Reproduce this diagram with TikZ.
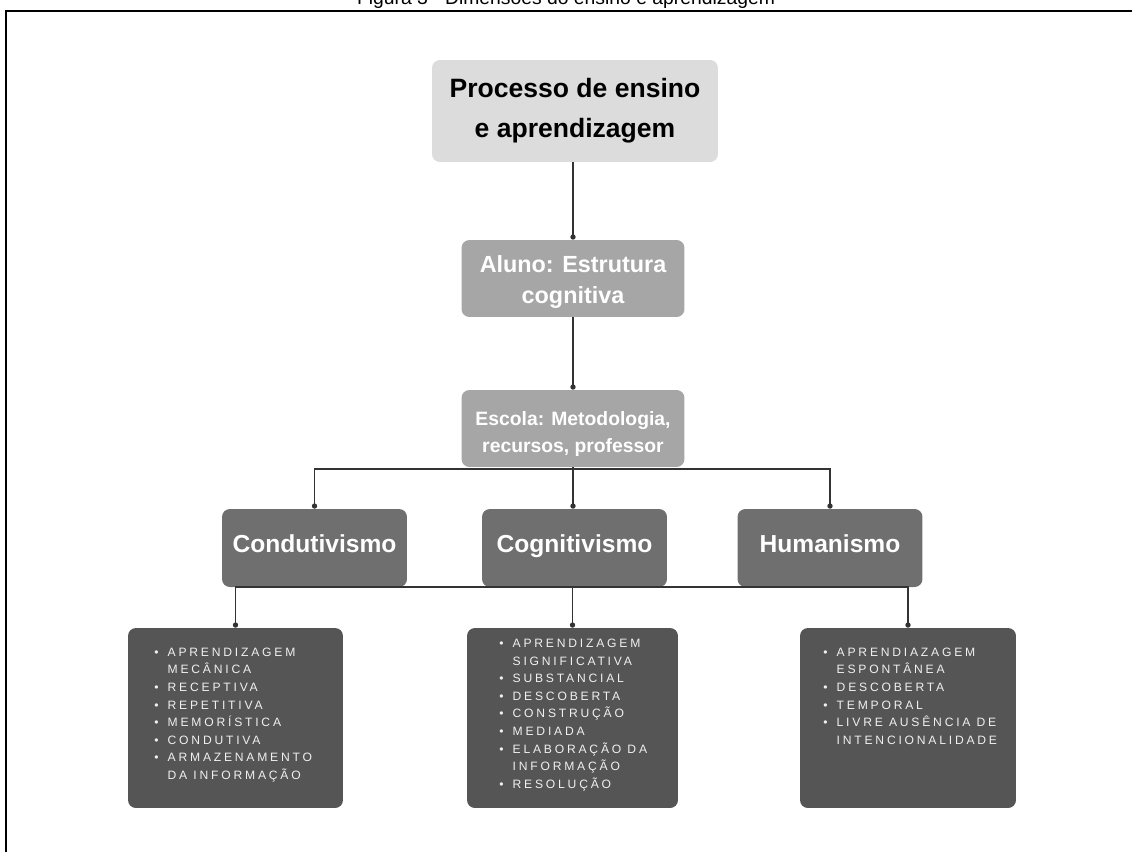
\documentclass[tikz,border=0pt]{standalone}
\usepackage{fontspec}
\setmainfont{Liberation Sans}
\newfontfamily\capsfont[LetterSpace=23]{Liberation Sans}
\usetikzlibrary{arrows.meta}
\definecolor{boxlight}{HTML}{DCDCDC}
\definecolor{boxmid}{HTML}{A6A6A6}
\definecolor{boxdark}{HTML}{6F6F6F}
\definecolor{boxlist}{HTML}{555555}
\definecolor{listtext}{HTML}{F0F0F0}
\newcommand{\itm}{\makebox[7.6pt][l]{•}}
\newcommand{\gap}{\hspace*{7.6pt}}
\begin{document}
\begin{tikzpicture}[x=0.02cm, y=-0.02cm,
    box/.style={rounded corners=4.5pt, inner sep=0pt, align=center},
    head/.style={box, fill=boxdark, text=white, minimum width=3.7cm, minimum height=1.56cm,
        text height=9.6pt, text depth=5pt, font=\bfseries\fontsize{14}{16}\selectfont},
    listbox/.style={box, fill=boxlist, minimum height=3.6cm},
    list/.style={anchor=north west, inner sep=0pt, align=left, text=listtext,
        font=\capsfont\fontsize{6.9}{10}\selectfont},
    conn/.style={draw=black!80, line width=0.6pt, -{Circle[length=3pt]}}]
    \useasboundingbox (0,0) rectangle (1132,852);
    \clip (0,0) rectangle (1132,852);
    \node[anchor=base, font=\fontsize{11}{13}\selectfont] (title) at (566,5) {Figura 3 - Dimensões do ensino e aprendizagem};
    \draw[line width=1.1pt] (6,852) -- (6,11) -- (1132,11);
    % upper chain
    \node[box, fill=boxlight, minimum width=5.72cm, minimum height=2.04cm, font=\bfseries\fontsize{15.1}{22.7}\selectfont] (proc) at (575,111) {Processo de ensino\\e aprendizagem};
    \node[box, fill=boxmid, text=white, minimum width=4.46cm, minimum height=1.54cm,
        text height=29pt, text depth=0pt, font=\bfseries\fontsize{13.3}{18.2}\selectfont] (aluno) at (573,278.5) {Aluno: Estrutura\\cognitiva};
    \node[box, fill=boxmid, text=white, minimum width=4.46cm, minimum height=1.54cm,
        text height=27.2pt, text depth=0pt, font=\bfseries\fontsize{11}{15.4}\selectfont] (escola) at (573,428.5) {Escola: Metodologia,\\recursos, professor};
    % three approaches
    \node[head] (cond) at (314.5,548) {Condutivismo};
    \node[head] (cogn) at (574.5,548) {Cognitivismo};
    \node[head] (hum) at (830,548) {Humanismo};
    % lists
    \node[listbox, minimum width=4.3cm] (condlist) at (235.5,718) {};
    \node[listbox, minimum width=4.22cm] (cognlist) at (572.5,718) {};
    \node[listbox, minimum width=4.32cm] (humlist) at (908,718) {};
    \node[list] (condtext) at (154,647.6) {\itm APRENDIZAGEM\\ \gap MECÂNICA\\ \itm RECEPTIVA\\ \itm REPETITIVA\\ \itm MEMORÍSTICA\\ \itm CONDUTIVA\\ \itm ARMAZENAMENTO\\ \gap DA INFORMAÇÃO};
    \node[list] (cogntext) at (499,638.8) {\itm APRENDIZAGEM\\ \gap SIGNIFICATIVA\\ \itm SUBSTANCIAL\\ \itm DESCOBERTA\\ \itm CONSTRUÇÃO\\ \itm MEDIADA\\ \itm ELABORAÇÃO DA\\ \gap INFORMAÇÃO\\ \itm RESOLUÇÃO};
    \node[list] (humtext) at (823,647.6) {\itm APRENDIAZAGEM\\ \gap ESPONTÂNEA\\ \itm DESCOBERTA\\ \itm TEMPORAL\\ \itm LIVRE AUSÊNCIA DE\\ \gap INTENCIONALIDADE};
    % connectors
    \coordinate (split1) at (573,469);
    \coordinate (split2) at (572.5,587);
    \draw[conn] (proc.south -| aluno.north) -- (aluno.north);
    \draw[conn] (aluno) -- (escola);
    \draw[conn] (escola.south) -- (split1) -| (cond.north);
    \draw[conn] (split1) -| (hum.north);
    \draw[conn] (split1) -- (cogn.north -| split1);
    \draw[conn] (split2) -| (condlist.north);
    \draw[conn] (split2) -| (humlist.north);
    \draw[conn] (cogn.south -| split2) -- (cognlist.north);
\end{tikzpicture}
\end{document}
